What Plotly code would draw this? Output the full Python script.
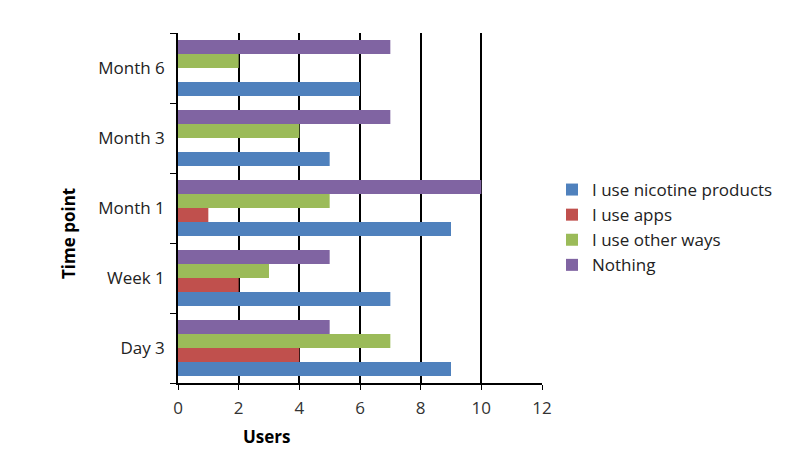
import plotly.graph_objects as go

categories = ["Day 3", "Week 1", "Month 1", "Month 3", "Month 6"]
series_names = ["I use nicotine products", "I use apps", "I use other ways", "Nothing"]
nicotine = [9, 7, 9, 5, 6]
apps = [4, 2, 1, 0, 0]
other_ways = [7, 3, 5, 4, 2]
nothing = [5, 5, 10, 7, 7]
x_ticks = [0, 2, 4, 6, 8, 10, 12]

colors = ["#4F81BD", "#C0504D", "#9BBB59", "#8064A2"]
values = [nicotine, apps, other_ways, nothing]

fig = go.Figure()
for name, vals, col in zip(series_names, values, colors):
    fig.add_trace(go.Bar(y=categories, x=vals, name=name, orientation="h",
                         marker=dict(color=col, line=dict(width=0))))

# page body has an 8px margin, so the figure is shrunk by 8px and margins shifted
W, H = 792, 442
L, T = 170, 25
PW, PH = 364, 350
font_family = "Open Sans, Liberation Sans, sans-serif"
fig.update_layout(
    width=W, height=H,
    margin=dict(l=L, r=W - L - PW, t=T, b=H - T - PH),
    plot_bgcolor="white", paper_bgcolor="white",
    barmode="group", bargap=0.2, bargroupgap=0,
    font=dict(family=font_family, size=17, color="#222"),
    legend=dict(x=(552 - 178) / PW, y=(383 - 172) / PH, xanchor="left", yanchor="top",
                traceorder="normal", font=dict(size=17, color="#222"),
                itemwidth=30, tracegroupgap=0),
    showlegend=True,
)
fig.update_xaxes(range=[0, 12], tickvals=x_ticks, showgrid=True, gridcolor="black",
                 gridwidth=1.5, showline=True, linecolor="black", linewidth=1.5,
                 ticks="outside", ticklen=5, tickcolor="black", zeroline=False,
                 ticklabelstandoff=4,
                 tickfont=dict(size=17, color="#333"))
fig.update_yaxes(showline=True, linecolor="black", linewidth=1.5, ticks="outside",
                 tickson="boundaries", ticklen=6, tickcolor="black",
                 ticklabelstandoff=8,
                 tickfont=dict(size=17, color="#222"), showgrid=False)

fig.add_annotation(text="<b>Users</b>", x=(267 - 178) / PW, y=-(436 - 383) / PH,
                   xref="paper", yref="paper", showarrow=False,
                   xanchor="center", yanchor="middle",
                   font=dict(size=17, color="black"))
fig.add_annotation(text="<b>Time point</b>", x=(68 - 178) / PW, y=(383 - 234) / PH,
                   xref="paper", yref="paper", showarrow=False, textangle=-90,
                   xanchor="center", yanchor="middle",
                   font=dict(size=17, color="black"))

fig.write_html("out.html")
